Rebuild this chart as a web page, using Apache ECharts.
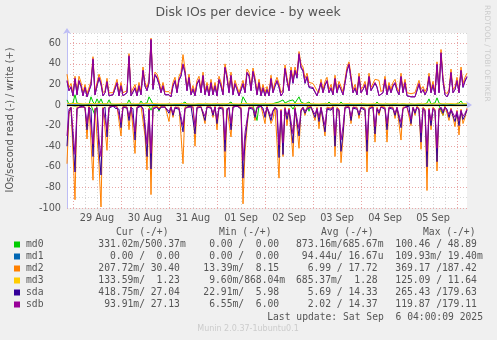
<!DOCTYPE html>
<html>
<head>
<meta charset="utf-8">
<script src="https://cdn.jsdelivr.net/npm/echarts@6/dist/echarts.min.js"></script>
<style>
  html, body { margin: 0; padding: 0; background: #F0F0F0; }
  #chart { width: 497px; height: 340px; }
</style>
</head>
<body>
<div id="chart"></div>
<script>
// Hourly samples, first one at 28 Aug 21:00, last one at 6 Sep 05:00 (201 samples).
const firstHour = 21;
const dayLabels = ['29 Aug', '30 Aug', '31 Aug', '01 Sep', '02 Sep', '03 Sep', '04 Sep', '05 Sep'];
const yTickLabels = [-100, -80, -60, -40, -20, 0, 20, 40, 60];

// Writes (drawn above zero), IOs/second
const md0Write = [
  5,1,0.5,2,10,2,0.5,1,0.5,0.5,
  1,0.5,8,3,1,6,2,6,1,0.5,
  1,5,1,0.5,0.5,1,0.5,0.5,1,0.5,
  1,5,1,0.5,0.5,1,0.5,4,1,0.5,
  2,8,7,1,0.5,0.5,1,0.5,0.5,0.5,
  0.5,1,0.5,0.5,1,0.5,0.5,0.5,1,3,
  1,0.5,0.5,2,0.5,0.5,1,0.5,0.5,0.5,
  1,0.5,0.5,0.5,1,0.5,0.5,0.5,1,0.5,
  0.5,1,3,0.5,0.5,0.5,1,0.5,8,7,
  1,0.5,0.5,0.5,1,0.5,0.5,0.5,1,0.5,
  0.5,1,0.5,1,2,1,3,4,5,2,
  3,4,3,5,2,3,8,3,2,1,
  1,3,1,0.5,0.5,1,0.5,0.5,1,0.5,
  1,3,1,0.5,0.5,1,0.5,3,1,0.5,
  0.5,1,0.5,0.5,0.5,1,0.5,0.5,1,0.5,
  0.5,1,0.5,1,0.5,3,1,0.5,0.5,0.5,
  1,0.5,0.5,0.5,1,0.5,0.5,2,1,0.5,
  0.5,0.5,1,0.5,0.5,0.5,1,0.5,0.5,1,
  2,6,1,0.5,2,7,2,1,0.5,0.5,
  1,0.5,0.5,1,0.5,1,2,4,1,0.5,
  0.5
];
const md1Write = [
  0,0,0,0,0,0,0,0,0,0, 0,0,0,0,0,0,0,0,0,0, 0,0,0,0,0,0,0,0,0,0, 0,0,0,0,0,0,0,0,0,0,
  0,0,0,0,0,0,0,0,0,0, 0,0,0,0,0,0,0,0,0,0, 0,0,0,0,0,0,0,0,0,0, 0,0,0,0,0,0,0,0,0,0,
  0,0,0,0,0,0,0,0,0,0, 0,0,0,0,0,0,0,0,0,0, 0,0,0,0,0,0,0,0,0,0, 0,0,0,0,0,0,0,0,0,0,
  0,0,0,0,0,0,0,0,0,0, 0,0,0,0,0,0,0,0,0,0, 0,0,0,0,0,0,0,0,0,0, 0,0,0,0,0,0,0,0,0,0,
  0,0,0,0,0,0,0,0,0,0, 0,0,0,0,0,0,0,0,0,0, 0,0,0,0,0,0,0,0,0,0, 0,0,0,0,0,0,0,0,0,0,
  0
];
const md2Write = [
  30,17,21,12,28,13,28,22,12,20,
  11,12,23,47,13,22,30,24,12,14,
  26,12,11,12,12,25,12,22,12,11,
  14,50,12,11,20,12,22,13,37,22,
  17,25,65,19,32,30,24,14,22,13,
  12,13,11,22,27,14,28,32,49,35,
  17,30,13,19,12,24,28,15,32,13,
  22,12,25,13,22,12,28,22,13,40,
  30,15,32,13,24,18,12,13,24,15,
  35,32,17,36,27,13,25,12,20,12,
  18,12,29,15,22,27,21,12,15,39,
  27,17,37,25,37,30,52,40,37,26,
  31,22,21,21,22,14,12,25,15,23,
  27,15,20,13,29,15,23,18,13,25,
  37,42,29,15,20,13,31,15,18,23,
  13,31,17,18,25,24,24,13,15,28,
  13,22,15,22,25,17,13,31,15,25,
  12,11,11,12,12,12,24,15,18,13,
  17,31,15,23,13,42,15,54,27,13,
  11,15,35,15,18,27,15,37,21,27,
  31
];
const md3Write = [
  1.3,1.2,1.4,1.1,1.5,1.2,1.3,1.2,1.1,1.3,
  1.2,1.1,1.4,1.6,1.2,1.3,1.5,1.4,1.2,1.1,
  1.3,1.2,1.1,1.2,1.1,1.3,1.2,1.2,1.1,1.2,
  1.3,1.5,1.2,1.1,1.2,1.1,1.3,1.2,1.4,1.2,
  1.3,1.4,1.7,1.3,1.4,1.3,1.2,1.1,1.2,1.1,
  1.1,1.2,1.1,1.2,1.3,1.2,1.3,1.3,1.5,1.4,
  1.2,1.3,1.1,1.2,1.1,1.2,1.3,1.2,1.3,1.1,
  1.2,1.1,1.2,1.1,1.2,1.1,1.3,1.2,1.1,1.4,
  1.3,1.2,1.3,1.1,1.2,1.2,1.1,1.1,1.4,1.3,
  1.4,1.3,1.2,1.4,1.3,1.1,1.2,1.1,1.2,1.1,
  1.2,1.1,1.3,1.2,1.2,1.3,1.2,1.1,1.2,1.4,
  1.3,1.2,1.4,1.3,1.4,1.3,1.6,1.4,1.4,1.3,
  1.3,1.2,1.2,1.2,1.2,1.1,1.1,1.3,1.2,1.2,
  1.3,1.2,1.2,1.1,1.3,1.2,1.2,1.2,1.1,1.3,
  1.4,1.4,1.3,1.2,1.2,1.1,1.3,1.2,1.2,1.3,
  1.1,1.3,1.2,1.2,1.3,1.2,1.2,1.1,1.2,1.3,
  1.1,1.2,1.2,1.2,1.3,1.2,1.1,1.3,1.2,1.3,
  1.1,1.1,1.1,1.1,1.1,1.1,1.2,1.2,1.2,1.1,
  1.2,1.3,1.2,1.2,1.1,1.4,1.2,1.5,1.3,1.1,
  1.1,1.2,1.4,1.2,1.2,1.3,1.2,1.4,1.2,1.3,
  1.2
];
const sdaWrite = [
  23,14,17,9,25,10,23,18,9,17,
  8,9,19,44,10,18,26,20,9,12,
  22,9,8,10,9,21,9,18,9,8,
  12,47,9,8,16,9,18,10,33,18,
  14,21,63,15,29,26,20,12,18,10,
  9,10,8,18,23,12,24,28,39,31,
  14,26,10,15,9,20,24,12,28,10,
  18,9,21,10,18,9,24,18,10,36,
  26,12,28,10,20,15,9,10,20,12,
  31,28,14,32,23,10,21,9,16,9,
  15,9,25,12,18,23,17,9,12,35,
  23,14,33,21,33,26,49,36,33,21,
  27,17,16,16,17,9,8,21,12,19,
  23,12,16,10,25,12,19,15,10,21,
  33,39,25,12,16,10,27,12,15,19,
  10,27,14,15,21,17,9,8,12,24,
  10,18,12,18,21,14,10,27,12,21,
  9,8,8,8,8,9,20,12,15,10,
  14,27,12,19,10,39,12,50,23,10,
  8,12,31,12,15,23,12,33,17,23,
  27
];
const sdbWrite = [
  24,14,18,9,26,10,24,19,9,17,
  8,9,20,45,10,19,27,21,9,12,
  23,9,8,10,9,22,9,19,9,8,
  12,48,9,8,17,9,19,10,34,19,
  14,22,64,16,30,27,21,12,19,10,
  9,10,8,19,24,12,25,29,40,32,
  14,27,10,16,9,21,25,12,29,10,
  19,9,22,10,19,9,25,19,10,37,
  27,12,29,10,21,15,9,10,21,12,
  32,29,14,33,24,10,22,9,17,9,
  15,9,26,12,19,24,18,9,12,36,
  24,14,34,22,34,27,50,37,34,22,
  28,18,17,17,18,9,8,22,12,20,
  24,12,17,10,26,12,20,15,10,22,
  34,40,26,12,17,10,28,12,15,20,
  10,28,14,15,22,18,9,8,12,25,
  10,19,12,19,22,14,10,28,12,22,
  9,8,8,8,8,9,21,12,15,10,
  14,28,12,20,10,40,12,51,24,10,
  8,12,32,12,15,24,12,34,18,24,
  28
];

// Reads (drawn below zero), IOs/second
const md0Read = [
  0.5,0.3,0.3,0.3,1,0.3,0.3,0.3,0.3,0.3,
  0.3,0.3,0.3,1,10,0.5,0.3,0.3,0.3,0.3,
  0.3,0.3,0.3,0.3,0.3,0.3,0.3,0.3,0.3,0.3,
  0.3,0.3,0.3,0.3,0.3,0.3,0.3,0.3,0.3,0.3,
  0.3,1,5,0.5,0.3,0.3,6,0.5,0.3,0.3,
  0.3,0.3,0.3,0.3,0.3,0.3,0.3,0.3,0.3,0.3,
  3,0.5,0.3,0.3,0.3,0.3,0.3,0.3,0.3,0.3,
  0.3,0.3,0.3,0.3,0.3,0.3,0.3,0.3,0.3,0.3,
  0.3,0.3,0.5,0.3,0.3,0.3,0.3,0.3,1,0.5,
  0.3,0.3,0.3,0.3,1,15,0.5,0.3,0.3,0.3,
  0.3,0.3,0.3,0.3,0.3,0.3,0.3,0.3,0.3,0.3,
  0.3,0.5,1,4,0.5,0.3,0.5,0.3,0.3,0.3,
  0.5,6,0.5,0.3,0.3,0.3,0.3,0.3,0.3,0.3,
  0.3,0.3,0.3,0.3,0.3,0.3,0.3,0.3,0.3,0.3,
  0.3,0.3,0.3,0.3,0.3,0.3,0.3,0.3,0.3,0.3,
  0.3,0.3,0.3,0.3,0.3,0.3,0.3,0.3,0.3,0.3,
  0.3,0.3,0.3,0.3,0.3,0.3,0.3,0.3,0.3,0.3,
  0.3,0.3,0.3,0.3,0.3,0.3,0.3,0.3,0.3,0.3,
  0.3,0.5,0.3,0.3,0.3,0.5,0.3,0.3,10,0.5,
  0.3,0.3,0.3,0.3,0.3,0.3,0.3,0.3,0.3,0.3,
  0.3
];
const md1Read = [
  0,0,0,0,0,0,0,0,0,0, 0,0,0,0,0,0,0,0,0,0, 0,0,0,0,0,0,0,0,0,0, 0,0,0,0,0,0,0,0,0,0,
  0,0,0,0,0,0,0,0,0,0, 0,0,0,0,0,0,0,0,0,0, 0,0,0,0,0,0,0,0,0,0, 0,0,0,0,0,0,0,0,0,0,
  0,0,0,0,0,0,0,0,0,0, 0,0,0,0,0,0,0,0,0,0, 0,0,0,0,0,0,0,0,0,0, 0,0,0,0,0,0,0,0,0,0,
  0,0,0,0,0,0,0,0,0,0, 0,0,0,0,0,0,0,0,0,0, 0,0,0,0,0,0,0,0,0,0, 0,0,0,0,0,0,0,0,0,0,
  0,0,0,0,0,0,0,0,0,0, 0,0,0,0,0,0,0,0,0,0, 0,0,0,0,0,0,0,0,0,0, 0,0,0,0,0,0,0,0,0,0,
  0
];
const md2Read = [
  57,9,2,1,92,2,1,2,1,2,
  33,1,2,73,3,2,58,99,2,1,
  44,2,1,1,2,1,2,30,1,1,
  2,24,1,2,47,2,1,1,2,30,
  63,3,87,2,2,1,3,1,1,1,
  2,16,1,12,2,1,2,2,57,2,
  1,2,1,1,40,2,2,1,2,18,
  1,1,2,12,1,24,2,1,2,70,
  3,2,31,1,2,1,1,2,96,45,
  22,2,1,2,15,2,1,1,2,18,
  1,2,18,13,2,3,71,4,50,2,
  20,3,4,50,2,3,42,4,2,10,
  2,2,1,2,15,2,23,2,1,30,
  2,2,3,1,50,2,4,56,32,2,
  2,1,18,2,1,2,13,2,1,3,
  65,2,2,1,36,2,10,1,2,2,
  36,2,1,2,13,2,1,34,2,1,
  2,1,20,2,10,1,3,43,2,4,
  83,3,24,2,4,64,3,2,10,1,
  2,15,3,4,21,5,29,4,18,12,
  3
];
const md3Read = [
  0.7,0.6,0.6,0.7,0.8,0.6,0.7,0.6,0.6,0.7,
  0.7,0.6,0.7,0.8,0.7,0.6,0.7,0.9,0.6,0.6,
  0.7,0.6,0.6,0.6,0.7,0.6,0.6,0.7,0.6,0.6,
  0.6,0.7,0.6,0.6,0.8,0.6,0.6,0.6,0.7,0.7,
  0.8,0.6,0.9,0.7,0.6,0.6,0.7,0.6,0.6,0.6,
  0.6,0.7,0.6,0.6,0.6,0.6,0.6,0.6,0.8,0.6,
  0.7,0.6,0.6,0.6,0.7,0.6,0.6,0.6,0.6,0.7,
  0.6,0.6,0.6,0.7,0.6,0.7,0.6,0.6,0.6,0.8,
  0.6,0.6,0.7,0.6,0.6,0.6,0.6,0.6,0.9,0.7,
  0.7,0.6,0.6,0.6,0.7,0.6,0.6,0.6,0.6,0.7,
  0.6,0.6,0.7,0.7,0.6,0.6,0.8,0.6,0.8,0.6,
  0.7,0.6,0.6,0.8,0.6,0.6,0.7,0.6,0.6,0.6,
  0.6,0.7,0.6,0.6,0.7,0.6,0.7,0.6,0.6,0.7,
  0.6,0.6,0.6,0.6,0.8,0.6,0.6,0.8,0.7,0.6,
  0.6,0.6,0.7,0.6,0.6,0.6,0.6,0.6,0.6,0.6,
  0.8,0.6,0.6,0.6,0.7,0.6,0.6,0.6,0.6,0.6,
  0.7,0.6,0.6,0.6,0.6,0.6,0.6,0.7,0.6,0.6,
  0.6,0.6,0.7,0.6,0.6,0.6,0.6,0.7,0.6,0.6,
  0.8,0.6,0.7,0.6,0.6,0.8,0.6,0.6,0.6,0.6,
  0.6,0.7,0.6,0.6,0.7,0.6,0.7,0.6,0.7,0.6,
  0.6
];
const sdaRead = [
  40,6,3,2,65,4,2,3,1,3,
  24,2,4,50,5,3,44,68,4,2,
  31,3,2,1,3,2,4,22,2,1,
  3,15,2,4,34,3,2,1,4,24,
  50,5,62,4,3,2,5,2,1,2,
  3,8,2,10,3,2,4,3,26,4,
  2,3,1,2,28,3,4,2,3,15,
  2,1,3,10,2,18,3,2,4,45,
  5,3,24,2,3,1,2,4,71,35,
  18,3,2,4,12,3,2,1,3,12,
  2,3,15,6,3,5,51,6,48,4,
  14,5,6,37,4,5,30,6,3,8,
  4,3,2,3,12,4,16,3,2,26,
  4,3,5,2,40,4,6,45,28,3,
  4,2,15,3,2,4,10,3,2,5,
  45,4,3,2,28,4,8,2,3,4,
  24,3,2,4,10,3,2,22,4,2,
  3,1,18,3,8,2,5,36,4,6,
  60,5,20,4,6,55,5,3,8,2,
  4,12,5,6,16,8,20,6,14,10,
  5
];
const sdbRead = [
  30,4,2,2,48,3,2,2,1,2,
  18,2,3,38,4,2,33,50,3,2,
  24,2,2,1,2,2,3,17,2,1,
  2,11,2,3,26,2,2,1,3,18,
  38,4,47,3,2,2,4,2,1,2,
  2,6,2,8,2,2,3,2,20,3,
  2,2,1,2,21,2,3,2,2,11,
  2,1,2,8,2,14,2,2,3,34,
  4,2,18,2,2,1,2,3,54,27,
  14,2,2,3,9,2,2,1,2,9,
  2,2,11,5,2,4,39,5,37,3,
  10,4,5,28,3,4,23,5,2,6,
  3,2,2,2,9,3,12,2,2,20,
  3,2,4,2,30,3,5,34,21,2,
  3,2,11,2,2,3,8,2,2,4,
  34,3,2,2,21,3,6,2,2,3,
  18,2,2,3,8,2,2,17,3,2,
  2,1,14,2,6,2,4,27,3,5,
  45,4,15,3,5,42,4,2,6,2,
  3,9,4,5,12,6,15,5,11,8,
  4
];

// Legend rows: name, colour, and the Cur / Min / Avg / Max columns (read/write)
const legendNames = ['md0', 'md1', 'md2', 'md3', 'sda', 'sdb'];
const legendColors = ['#00CC00', '#0066B3', '#FF8000', '#FFCC00', '#330099', '#990099'];
const curText = ['331.02m/500.37m', '  0.00 /  0.00 ', '207.72m/ 30.40 ', '133.59m/  1.23 ', '418.75m/ 27.04 ', ' 93.91m/ 27.13 '];
const minText = ['  0.00 /  0.00 ', '  0.00 /  0.00 ', ' 13.39m/  8.15 ', '  9.60m/868.04m', ' 22.91m/  5.98 ', '  6.55m/  6.00 '];
const avgText = ['873.16m/685.67m', ' 94.44u/ 16.67u', '  6.99 / 17.72 ', '685.37m/  1.28 ', '  5.69 / 14.33 ', '  2.02 / 14.37 '];
const maxText = ['100.46 / 48.89 ', '109.93m/ 19.40m', '369.17 /187.42 ', '125.09 / 11.64 ', '265.43 /179.63 ', '119.87 /179.11 '];
const columnHeads = ['Cur (-/+)', 'Min (-/+)', 'Avg (-/+)', 'Max (-/+)'];

const reads = [md0Read, md1Read, md2Read, md3Read, sdaRead, sdbRead];
const writes = [md0Write, md1Write, md2Write, md3Write, sdaWrite, sdbWrite];

const categories = sdbWrite.map((_, k) => String(k));
const hourOf = k => (firstHour + k) % 24;
const dayOf = k => Math.floor((firstHour + k) / 24); // 0 = 28 Aug

const series = [];
legendNames.forEach((name, d) => {
  const common = {
    type: 'line', name: name, showSymbol: false, symbol: 'none', silent: true,
    lineStyle: { color: legendColors[d], width: 1 }, itemStyle: { color: legendColors[d] }
  };
  const readSeries = Object.assign({}, common, { data: reads[d].map(v => -v) });
  if (name === 'md3') {
    readSeries.markLine = {
      silent: true, symbol: 'none', label: { show: false },
      lineStyle: { color: '#000000', width: 1, type: 'solid' },
      data: [{ yAxis: 0 }]
    };
  }
  series.push(readSeries);
  series.push(Object.assign({}, common, { data: writes[d] }));
});

const mono = '"DejaVu Sans Mono", monospace';
const sans = '"DejaVu Sans", sans-serif';
const graphics = [
  { type: 'text', x: 248, y: 13, style: { text: 'Disk IOs per device - by week', font: '12.5px ' + sans, fill: '#555555', align: 'center', verticalAlign: 'middle' } },
  { type: 'text', x: 10, y: 120, rotation: Math.PI / 2, style: { text: 'IOs/second read (-) / write (+)', font: '9.7px ' + sans, fill: '#555555', align: 'center', verticalAlign: 'middle' } },
  { type: 'text', x: 487, y: 5, rotation: -Math.PI / 2, style: { text: 'RRDTOOL / TOBI OETIKER', font: '7.5px ' + sans, fill: '#CCCCCC', align: 'left', verticalAlign: 'middle' } },
  { type: 'text', x: 483, y: 317, style: { text: 'Last update: Sat Sep  6 04:00:09 2025', font: '9.7px ' + mono, fill: '#555555', align: 'right', verticalAlign: 'middle' } },
  { type: 'text', x: 248, y: 329, style: { text: 'Munin 2.0.37-1ubuntu0.1', font: '8px ' + sans, fill: '#CCCCCC', align: 'center', verticalAlign: 'middle' } }
];
const headX = [116, 219, 321, 423];
columnHeads.forEach((h, c) => {
  graphics.push({ type: 'text', x: headX[c], y: 232.5, style: { text: h, font: '9.7px ' + mono, fill: '#555555', align: 'left', verticalAlign: 'middle' } });
});
const colX = [98.3, 197.5, 296, 395.3];
const cols = [curText, minText, avgText, maxText];
legendNames.forEach((name, r) => {
  const y = 244.5 + r * 12;
  graphics.push({ type: 'rect', shape: { x: 14, y: y - 3, width: 6, height: 6 }, style: { fill: legendColors[r] } });
  graphics.push({ type: 'text', x: 26, y: y, style: { text: name, font: '9.7px ' + mono, fill: '#555555', align: 'left', verticalAlign: 'middle' } });
  cols.forEach((col, c) => {
    graphics.push({ type: 'text', x: colX[c], y: y, style: { text: col[r], font: '9.7px ' + mono, fill: '#555555', align: 'left', verticalAlign: 'middle' } });
  });
});

const chart = echarts.init(document.getElementById('chart'), null, { renderer: 'canvas' });
chart.setOption({
  animation: false,
  backgroundColor: '#F0F0F0',
  grid: { left: 67, top: 33, width: 400, height: 175, show: true, backgroundColor: '#FFFFFF', borderWidth: 0, containLabel: false },
  xAxis: {
    type: 'category', data: categories, boundaryGap: false,
    axisLine: { show: true, lineStyle: { color: '#BDBDF5', width: 1 }, symbol: ['none', 'arrow'], symbolSize: [6, 6], symbolOffset: [0, 5] },
    axisTick: { show: false },
    axisLabel: {
      interval: (k) => hourOf(k) === 12,
      formatter: (v) => dayLabels[dayOf(Number(v)) - 1],
      color: '#555555', fontFamily: 'DejaVu Sans', fontSize: 9.7, margin: 5
    },
    splitLine: {
      show: true,
      interval: (k) => hourOf(k) % 6 === 0,
      lineStyle: { color: ['#E8A6A6', '#D6D6D6', '#D6D6D6', '#D6D6D6'], type: [1, 2], width: 1 }
    }
  },
  yAxis: {
    type: 'value', min: -100, max: 70, interval: 10,
    axisLine: { show: true, lineStyle: { color: '#BDBDF5', width: 1 }, symbol: ['none', 'arrow'], symbolSize: [6, 6], symbolOffset: [0, 5] },
    axisTick: { show: false },
    axisLabel: {
      formatter: (v) => yTickLabels.indexOf(v) >= 0 ? String(v) : '',
      color: '#555555', fontFamily: 'DejaVu Sans', fontSize: 9.7, margin: 6
    },
    splitLine: { show: true, lineStyle: { color: ['#E8A6A6', '#D6D6D6'], type: [1, 2], width: 1 } }
  },
  series: series,
  graphic: graphics
});
</script>
</body>
</html>
